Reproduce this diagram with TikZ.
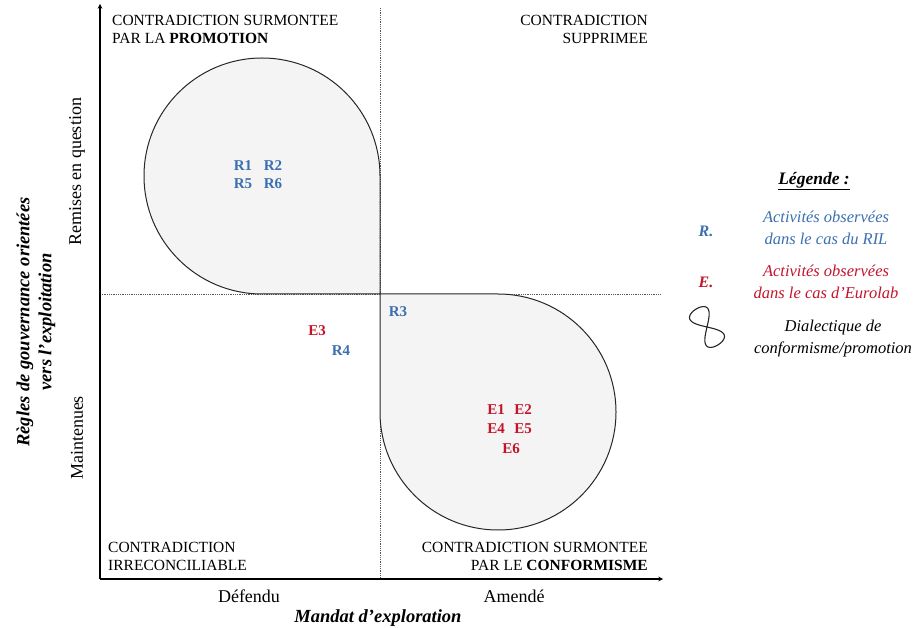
\documentclass[tikz,border=0pt]{standalone}
\usepackage{fontspec}
\setmainfont{Liberation Serif}
\usepackage{xcolor}
\usetikzlibrary{calc}

\definecolor{rilblue}{HTML}{3B6FAF}
\definecolor{labred}{HTML}{C3142B}
\definecolor{dropgray}{HTML}{F4F4F4}

\begin{document}
\begin{tikzpicture}[x=1pt, y=1pt,
		quad/.style={inner sep=0pt, align=left, font=\fontsize{15.5}{18}\selectfont},
		quadr/.style={quad, align=right},
		axisval/.style={inner sep=0pt, font=\fontsize{18}{22}\selectfont},
		axistitle/.style={inner sep=0pt, align=center, font=\fontsize{18.5}{22}\selectfont\bfseries\itshape},
		ril/.style={inner sep=0pt, text=rilblue, font=\fontsize{15}{17}\selectfont\bfseries},
		lab/.style={ril, text=labred},
		legtext/.style={inner sep=0pt, align=center, font=\fontsize{16.5}{22}\selectfont\itshape},
		drop/.style={draw=black!85, line width=1pt, fill=dropgray},
		guide/.style={densely dotted, line width=0.8pt, black!65}]
		\useasboundingbox (0,0) rectangle (916,627);
		
		%definition of origin
		\coordinate (O) at (100,48);
		
		%variables
		\def\r{118};
		
		%axes and guides
		\coordinate (xend) at (663,48);
		\coordinate (yend) at (100,623);
		\coordinate (M) at (380,333);
		\coordinate (mtop) at (380,619);
		\coordinate (mbot) at (380,48);
		\coordinate (hl) at (100,333);
		\coordinate (hr) at (660,333);
		
		\draw [guide] (mtop) -- (mbot);
		\draw [guide] (hl) -- (hr);
		
		%drops
		\filldraw [drop] (M) -- ++(0,\r) arc [start angle=0, end angle=270, radius=\r] -- cycle;
		\filldraw [drop] (M) -- ++(\r,0) arc [start angle=90, end angle=-180, radius=\r] -- cycle;
		
		\draw [-stealth, line width=1.1pt] (O) -- (xend);
		\draw [-stealth, line width=1.1pt] (O) -- (yend);
		
		%quadrants
		\node [quad, anchor=north west] (tl) at (112,612) {CONTRADICTION SURMONTEE\\PAR LA \textbf{PROMOTION}};
		\node [quadr, anchor=north east] (tr) at (648,612) {CONTRADICTION\\SUPPRIMEE};
		\node [quad, anchor=north west] (bl) at (108,85) {CONTRADICTION\\IRRECONCILIABLE};
		\node [quadr, anchor=north east] (br) at (648,85) {CONTRADICTION SURMONTEE\\PAR LE \textbf{CONFORMISME}};
		
		%axis labels
		\node [axisval, anchor=base] (defendu) at (249,25) {Défendu};
		\node [axisval, anchor=base] (amende) at (514,25) {Amendé};
		\node [axistitle, anchor=base] (mandat) at (378,5) {Mandat d’exploration};
		\node [axisval, rotate=90] (remises) at (77,455) {Remises en question};
		\node [axisval, rotate=90] (maint) at (77,189) {Maintenues};
		\node [axistitle, rotate=90] (regles) at (36,305) {Règles de gouvernance orientées\\vers l’exploitation};
		
		%activities
		\node [ril] (r1) at (243,461) {R1};
		\node [ril] (r2) at (273,461) {R2};
		\node [ril] (r5) at (243,443) {R5};
		\node [ril] (r6) at (273,443) {R6};
		\node [ril] (r3) at (398,315) {R3};
		\node [ril] (r4) at (341,276) {R4};
		\node [lab] (e3) at (317,296) {E3};
		\node [lab] (e1) at (496,217) {E1};
		\node [lab] (e2) at (523,217) {E2};
		\node [lab] (e4) at (496,198) {E4};
		\node [lab] (e5) at (523,198) {E5};
		\node [lab] (e6) at (511,178) {E6};
		
		%legend
		\node [legtext, font=\fontsize{17.5}{21}\selectfont\bfseries\itshape] (leg) at (814,446) {\underline{Légende :}};
		\node [legtext, text=rilblue, font=\fontsize{16}{20}\selectfont\bfseries\itshape] (rkey) at (706,396) {R.};
		\node [legtext, text=rilblue] (rtext) at (826,399) {Activités observées\\dans le cas du RIL};
		\node [legtext, text=labred, font=\fontsize{16}{20}\selectfont\bfseries\itshape] (ekey) at (706,345) {E.};
		\node [legtext, text=labred] (etext) at (826,345) {Activités observées\\dans le cas d’Eurolab};
		\coordinate (sym) at (707,300);
		\begin{scope}[shift={(sym)}, rotate=-58]
			\draw [line width=1.1pt, black!85] plot [domain=0:360, samples=90, smooth cycle] ({21*cos(\x)}, {21*sin(\x)*cos(\x)});
		\end{scope}
		\node [legtext] (dtext) at (833,288) {Dialectique de\\conformisme/promotion};
		
	\end{tikzpicture}
\end{document}
